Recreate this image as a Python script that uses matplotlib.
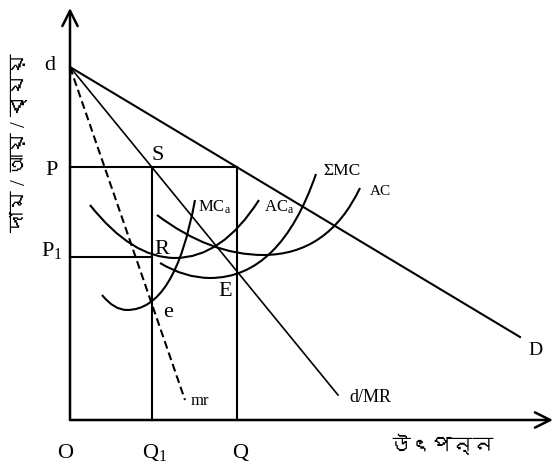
import matplotlib
matplotlib.use("Agg")
import matplotlib.pyplot as plt
from matplotlib.path import Path
from matplotlib.patches import PathPatch
from matplotlib import font_manager as fm

# ---------------- data (diagram units: origin O at the axes corner) ----------------
d_intercept = 353            # d : vertical intercept of the demand lines
P, P1 = 253, 163             # price levels
Q1, Q = 82, 167              # output levels
D_end = (450, 83)            # end of the market demand line D
MR_end = (268, 25)           # end of d/MR line
mr_end = (115, 20)           # end of dashed mr line
x_axis_end, y_axis_end = 483, 412

# U-shaped cost curves: start, bottom, end, and control x (left, right)
MCa_pts = [(32, 125), (57, 110), (125, 220)]
MCa_ctrl = (44, 105)
ACa_pts = [(20, 215), (105, 162), (189, 220)]
ACa_ctrl = (62, 152)
SMC_pts = [(90, 157), (140, 142), (246, 246)]
SMC_ctrl = (115, 210)
AC_pts = [(87, 205), (193, 165), (290, 232)]
AC_ctrl = (140, 258)

y_label = "দাম / আয় / ব্যয়"
x_label = "উৎপন্ন"

# ---------------- fonts ----------------
def find_bengali_font():
    try:
        from fontTools.ttLib import TTFont
    except Exception:
        return None
    for f in fm.fontManager.ttflist:
        try:
            tt = TTFont(f.fname, fontNumber=0, lazy=True)
            cmap = tt.getBestCmap()
            if cmap and 0x0989 in cmap and 0x09AA in cmap:
                return f.name
        except Exception:
            continue
    return None

beng = find_bengali_font()
fams = ["Liberation Serif"] + ([beng] if beng else []) + ["DejaVu Sans"]
plt.rcParams["font.family"] = fams
plt.rcParams["mathtext.fontset"] = "custom"
plt.rcParams["mathtext.rm"] = "Liberation Serif"
plt.rcParams["mathtext.it"] = "Liberation Serif:italic"

# ---------------- figure ----------------
fig = plt.figure(figsize=(5.55, 4.68), dpi=100)
ax = fig.add_axes([0, 0, 1, 1])
ax.set_xlim(-70, 485)
ax.set_ylim(-48, 420)
ax.axis("off")

K = "black"
arrow = dict(arrowstyle="->,head_length=1.1,head_width=0.55", lw=1.8,
             color=K, shrinkA=0, shrinkB=0, mutation_scale=10)
ax.annotate("", xy=(0, y_axis_end), xytext=(0, 0), arrowprops=arrow)
ax.annotate("", xy=(x_axis_end, 0), xytext=(0, 0), arrowprops=arrow)

lw = 1.5
# demand lines
ax.plot([0, D_end[0]], [d_intercept, D_end[1]], color=K, lw=lw)
ax.plot([0, MR_end[0]], [d_intercept, MR_end[1]], color=K, lw=1.2)
ax.plot([0, mr_end[0]], [d_intercept, mr_end[1]], color=K, lw=1.5,
        linestyle=(0, (3.8, 2.0)))

# price / quantity guide lines
ax.plot([0, Q], [P, P], color=K, lw=lw)
ax.plot([0, Q1], [P1, P1], color=K, lw=lw)
ax.plot([Q1, Q1], [0, P], color=K, lw=lw)
ax.plot([Q, Q], [0, P], color=K, lw=lw)


def u_curve(pts, ctrl):
    (sx, sy), (vx, vy), (tx, ty) = pts
    verts = [(sx, sy), (ctrl[0], vy), (vx, vy), (ctrl[1], vy), (tx, ty)]
    codes = [Path.MOVETO, Path.CURVE3, Path.CURVE3, Path.CURVE3, Path.CURVE3]
    ax.add_patch(PathPatch(Path(verts, codes), fill=False, lw=lw, edgecolor=K))


for pts, ctrl in [(MCa_pts, MCa_ctrl), (ACa_pts, ACa_ctrl),
                  (SMC_pts, SMC_ctrl), (AC_pts, AC_ctrl)]:
    u_curve(pts, ctrl)

# ---------------- labels ----------------
big = 16
ax.text(-20, 350, "d", fontsize=big, ha="center", va="baseline")
ax.text(-18, 245, "P", fontsize=big, ha="center", va="baseline")
ax.text(-29, 164, r"$\mathrm{P}_{\mathrm{1}}$", fontsize=big, ha="left", va="baseline")
ax.text(-5, -38, "O", fontsize=big, ha="center", va="baseline")
ax.text(72, -38, r"$\mathrm{Q}_{\mathrm{1}}$", fontsize=big, ha="left", va="baseline")
ax.text(170, -38, "Q", fontsize=big, ha="center", va="baseline")
ax.text(372, -26, x_label, fontsize=15, ha="center", va="center")
ax.text(-50, 277, y_label, fontsize=15, ha="center", va="center", rotation=90)

ax.text(88, 260, "S", fontsize=big, ha="center", va="baseline")
ax.text(92, 166, "R", fontsize=big, ha="center", va="baseline")
ax.text(155, 124, "E", fontsize=big, ha="center", va="baseline")
ax.text(98, 103, "e", fontsize=big, ha="center", va="baseline")
ax.text(128, 208, r"$\mathrm{MC}_{\mathrm{a}}$", fontsize=12, ha="left", va="baseline")
ax.text(194, 208, r"$\mathrm{AC}_{\mathrm{a}}$", fontsize=12, ha="left", va="baseline")
ax.text(253, 245, "ΣMC", fontsize=12.5, ha="left", va="baseline")
ax.text(300, 225, "AC", fontsize=11, ha="left", va="baseline")
ax.text(465, 65, "D", fontsize=14, ha="center", va="baseline")
ax.text(279, 18, "d/MR", fontsize=13, ha="left", va="baseline")
ax.text(121, 15, "mr", fontsize=12, ha="left", va="baseline")

fig.savefig("out.png", dpi=100)
